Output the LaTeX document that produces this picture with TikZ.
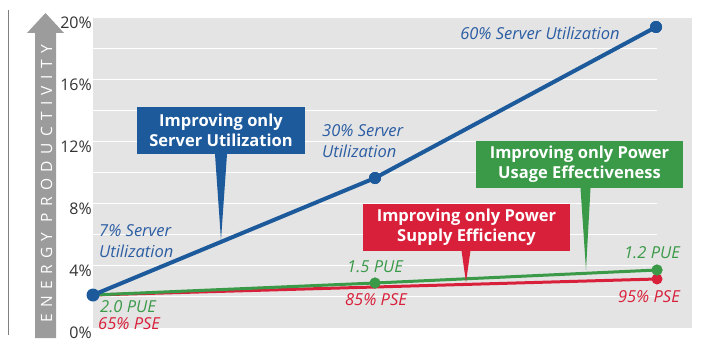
\documentclass[tikz,border=0pt]{standalone}
\usepackage{fontspec}
\setmainfont{Open Sans}
\usetikzlibrary{calc}

\definecolor{serverblue}{HTML}{1C5A9C}
\definecolor{pueGreen}{HTML}{3A9A48}
\definecolor{pseRed}{HTML}{D9203A}
\definecolor{arrowgray}{HTML}{9C9C9C}
\definecolor{plotbg}{HTML}{E4E4E4}
\definecolor{labelblue}{HTML}{2B5DA3}

\begin{document}
\begin{tikzpicture}[
    x=1pt, y=-1pt,
    callout/.style={fill=#1, text=white, align=center, inner sep=0pt,
        font=\fontsize{16.5}{20}\selectfont\bfseries, minimum height=47pt},
    datalabel/.style={font=\fontsize{16.5}{21}\selectfont\itshape, inner sep=0pt, text=#1},
    dot/.style={circle, fill=#1, inner sep=0pt, minimum size=12pt},
    ticklabel/.style={font=\fontsize{16}{16}\selectfont, inner sep=0pt, anchor=east, text=black!80}
]
    \useasboundingbox (0,0) rectangle (706,345);

    % --- Frame and axis arrow ---
    \draw[black!50, line width=0.8pt] (8,10) -- (8,335);
    \fill[arrowgray] (35,33) -- (27,33) -- (45.5,13) -- (64,33) -- (56,33) -- (56,338) -- (35,338) -- cycle;
    \node[rotate=90, text=white, inner sep=0pt,
        font=\fontsize{15.5}{16}\selectfont\addfontfeatures{LetterSpace=41}]
        (axisname) at (46.5,184) {ENERGY PRODUCTIVITY};

    % --- Plot area ---
    \fill[plotbg] (93,18) rectangle (692,328);
    \foreach \k in {1,...,9}
        \draw[white, line width=1pt] (93,18+30.95*\k) -- (657,18+30.95*\k);
    \foreach \v/\k in {20/0,16/2,12/4,8/6,4/8,0/10}
        \node[ticklabel] (tick\v) at (92,23+30.95*\k) {\v\%};

    % --- Data points ---
    \coordinate (start) at (93,295);
    \coordinate (redmid) at (375,287);
    \node[dot=serverblue] (blue30) at (375,178) {};
    \node[dot=serverblue] (blue60) at (656,27) {};
    \node[dot=pseRed, minimum size=11pt] (red95) at (657,279) {};
    \node[dot=pueGreen, minimum size=11pt] (green15) at (375,283) {};
    \node[dot=pueGreen, minimum size=11pt] (green12) at (657,270) {};

    % --- Lines ---
    \draw[pseRed, line width=3pt] (start) -- (redmid) -- (red95.center);
    \draw[pueGreen, line width=3pt] (start) -- (green15.center) -- (green12.center);
    \draw[serverblue, line width=4pt] (start) -- (blue30.center) -- (blue60.center);
    \node[dot=pueGreen, minimum size=11pt] at (green15) {};
    \node[dot=pueGreen, minimum size=11pt] at (green12) {};
    \node[dot=serverblue] at (blue30) {};
    \node[dot=serverblue] at (blue60) {};
    \node[dot=serverblue, minimum size=13pt] (origin) at (start) {};

    % --- Point labels ---
    \node[datalabel=labelblue] (lab60) at (540,33) {60\% Server Utilization};
    \node[datalabel=labelblue, align=left, anchor=north west] (lab30) at (322,124) {30\% Server\\Utilization};
    \node[datalabel=labelblue, align=left, anchor=north west] (lab7) at (99,224) {7\% Server\\Utilization};
    \node[datalabel=pueGreen, anchor=west] (pue20) at (100,307) {2.0 PUE};
    \node[datalabel=pseRed, anchor=west] (pse65) at (98,324) {65\% PSE};
    \node[datalabel=pueGreen] (pue15) at (375,267) {1.5 PUE};
    \node[datalabel=pseRed] (pse85) at (376,300) {85\% PSE};
    \node[datalabel=pueGreen, anchor=east] (pue12) at (680,253) {1.2 PUE};
    \node[datalabel=pseRed, anchor=east] (pse95) at (680,297) {95\% PSE};

    % --- Callouts ---
    \coordinate (servertip) at (221,240);
    \coordinate (puetip) at (586,270);
    \coordinate (psetip) at (466,282);

    \node[callout=serverblue, minimum width=168pt] (serverbox) at (221,130.5) {Improving only\\Server Utilization};
    \fill[serverblue] ($(serverbox.south)+(-6,0)$) -- (servertip) -- ($(serverbox.south)+(6,0)$) -- cycle;

    \node[callout=pueGreen, minimum width=207pt] (puebox) at (579.5,164.5) {Improving only Power\\Usage Effectiveness};
    \fill[pueGreen] ($(puebox.south)+(1,0)$) -- (puetip) -- ($(puebox.south)+(11,0)$) -- cycle;

    \node[callout=pseRed, minimum width=207pt] (psebox) at (466.5,227) {Improving only Power\\Supply Efficiency};
    \fill[pseRed] ($(psebox.south)+(-5,0)$) -- (psetip) -- ($(psebox.south)+(4,0)$) -- cycle;

\end{tikzpicture}
\end{document}
